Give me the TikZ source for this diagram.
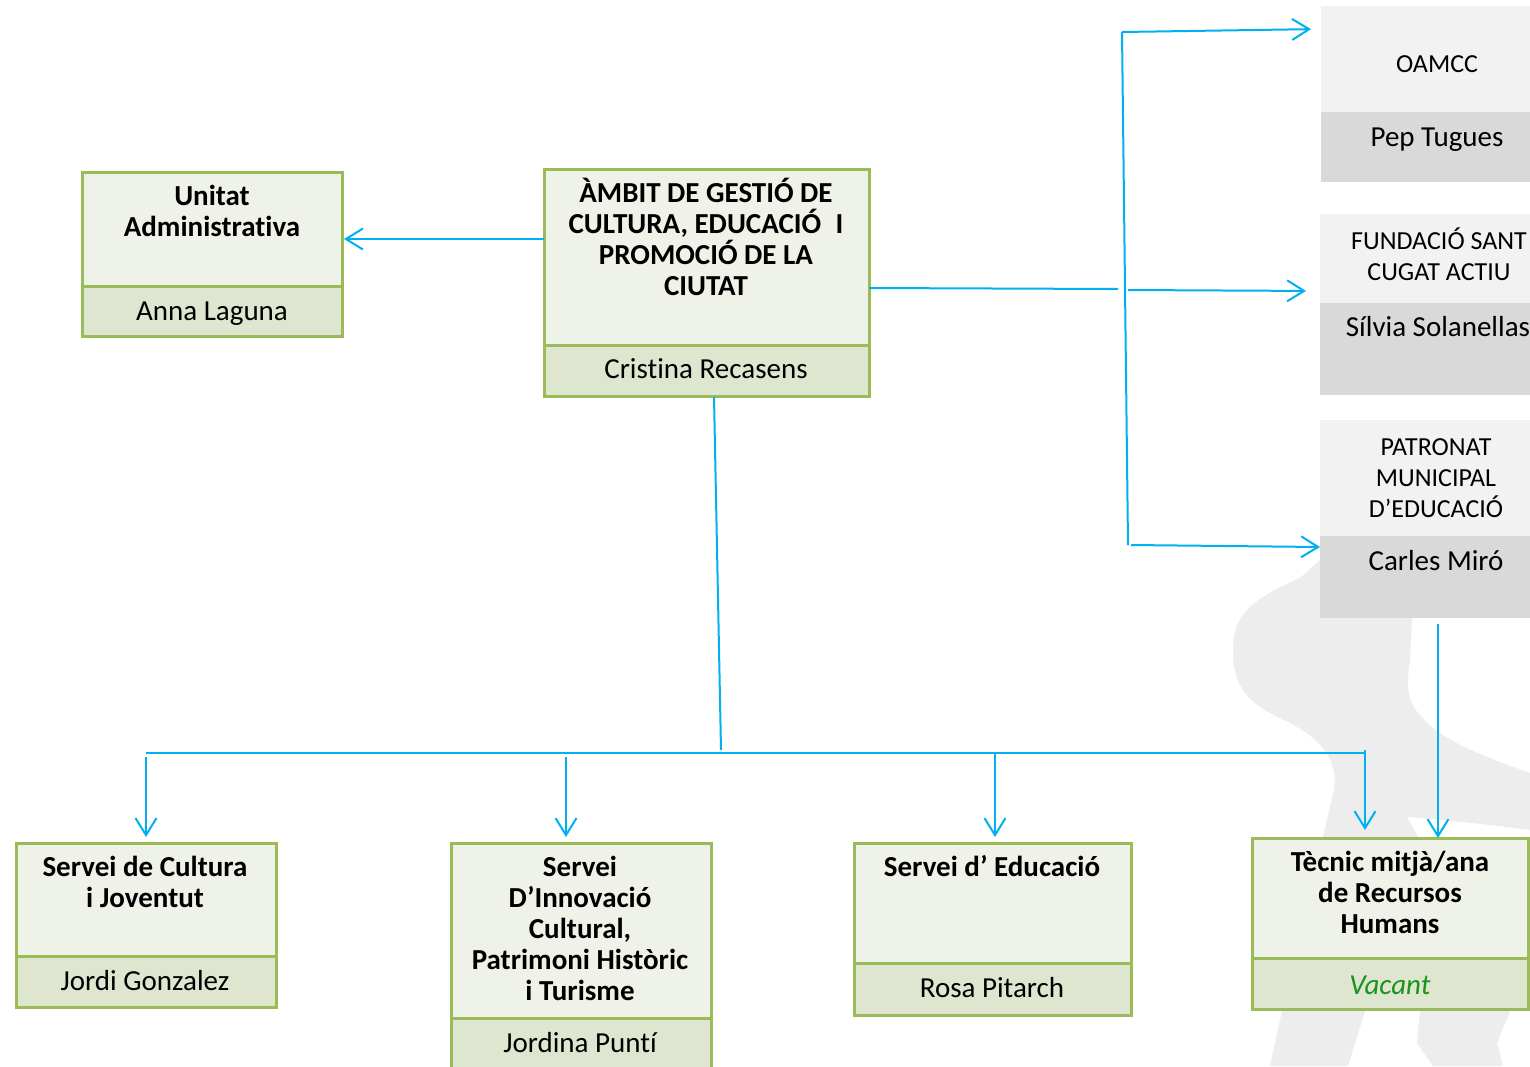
\documentclass[tikz,border=0pt]{standalone}
\usepackage{fontspec}
\setmainfont{Carlito}[Ligatures=NoCommon]
\usetikzlibrary{arrows.meta}
\definecolor{gbd}{HTML}{9BBB59}
\definecolor{gtop}{HTML}{EFF2E8}
\definecolor{gbot}{HTML}{DEE6D0}
\definecolor{ltop}{HTML}{F2F2F2}
\definecolor{lbot}{HTML}{D9D9D9}
\definecolor{conn}{HTML}{00B0F0}
\definecolor{wmark}{HTML}{EDEDED}
\definecolor{vac}{HTML}{1A941A}
\tikzset{
  gpart/.style={draw=gbd, line width=3pt, inner sep=0pt, outer sep=0pt, anchor=north west},
  lpart/.style={draw=none, inner sep=0pt, outer sep=0pt, anchor=north west},
  ttl/.style={font=\fontsize{29}{31}\selectfont\bfseries, align=center, inner sep=0pt, anchor=north},
  lab/.style={font=\fontsize{26}{31}\selectfont, align=center, inner sep=0pt, anchor=north},
  nm/.style={font=\fontsize{29}{31}\selectfont, inner sep=0pt, anchor=base},
  cl/.style={draw=conn, line width=2pt},
  arr/.style={draw=conn, line width=2pt, -{Straight Barb[length=17pt,width=21pt]}}
}
\newcommand{\fr}{\rule{0pt}{28pt}}
\begin{document}
\begin{tikzpicture}[x=1pt,y=-1pt]
\useasboundingbox (0,0) rectangle (1530,1066);
\fill[white] (0,0) rectangle (1530,1066);
% watermark
\fill[wmark] (1320,560) -- (1300,578) .. controls (1250,600) and (1233,615) .. (1233,650)
  .. controls (1233,690) and (1250,705) .. (1290,723) .. controls (1322,740) and (1338,760) .. (1334,790)
  -- (1282,1011) -- (1270,1066) -- (1348,1066) -- (1365,1011) -- (1390,900) -- (1420,1011)
  -- (1417,1043) -- (1433,1066) -- (1503,1066) -- (1497,1043) -- (1510,1011) -- (1420,840)
  -- (1407,817) .. controls (1450,820) and (1500,826) .. (1530,830) -- (1530,773)
  .. controls (1480,755) and (1440,740) .. (1420,715) .. controls (1405,700) and (1407,680) .. (1410,660)
  -- (1413,600) -- cycle;

% green boxes
\node[gpart, fill=gtop, minimum width=260, minimum height=114] (uaT) at (82,172) {};
\node[gpart, fill=gbot, minimum width=260, minimum height=50] (uaB) at (82,286) {};
\node[gpart, fill=gtop, minimum width=325, minimum height=176] (cbT) at (544,169) {};
\node[gpart, fill=gbot, minimum width=325, minimum height=51] (cbB) at (544,345) {};
\node[gpart, fill=gtop, minimum width=260, minimum height=113] (cuT) at (16,843) {};
\node[gpart, fill=gbot, minimum width=260, minimum height=51] (cuB) at (16,956) {};
\node[gpart, fill=gtop, minimum width=260, minimum height=175] (inT) at (451,843) {};
\node[gpart, fill=gbot, minimum width=260, minimum height=72] (inB) at (451,1018) {};
\node[gpart, fill=gtop, minimum width=277, minimum height=120] (edT) at (854,843) {};
\node[gpart, fill=gbot, minimum width=277, minimum height=52] (edB) at (854,963) {};
\node[gpart, fill=gtop, minimum width=276, minimum height=120] (teT) at (1252,838) {};
\node[gpart, fill=gbot, minimum width=276, minimum height=51] (teB) at (1252,958) {};
% grey boxes
\node[lpart, fill=ltop, minimum width=209, minimum height=106] (omT) at (1321,6) {};
\node[lpart, fill=lbot, minimum width=209, minimum height=70] (omB) at (1321,112) {};
\node[lpart, fill=ltop, minimum width=210, minimum height=89] (fuT) at (1320,214) {};
\node[lpart, fill=lbot, minimum width=210, minimum height=92] (fuB) at (1320,303) {};
\node[lpart, fill=ltop, minimum width=210, minimum height=116] (paT) at (1320,420) {};
\node[lpart, fill=lbot, minimum width=210, minimum height=82] (paB) at (1320,536) {};

% texts
\node[ttl] (uaL) at (212,177) {\fr Unitat\\Administrativa};
\node[nm] (uaN) at (212,320) {Anna Laguna};
\node[ttl] (cbL) at (706,174) {\fr ÀMBIT DE GESTIÓ DE\\CULTURA, EDUCACIÓ\hspace{0.5em}I\\PROMOCIÓ DE LA\\CIUTAT};
\node[nm] (cbN) at (706,378) {Cristina Recasens};
\node[lab, anchor=base] (omL) at (1437,72) {OAMCC};
\node[nm] (omN) at (1437,146) {Pep Tugues};
\node[lab] (fuL) at (1439,221) {\fr FUNDACIÓ SANT\\CUGAT ACTIU};
\node[nm] (fuN) at (1438,336) {Sílvia Solanellas};
\node[lab] (paL) at (1436,427) {\fr PATRONAT\\MUNICIPAL\\D’EDUCACIÓ};
\node[nm] (paN) at (1436,570) {Carles Miró};
\node[ttl] (cuL) at (145,848) {\fr Servei de Cultura\\i Joventut};
\node[nm] (cuN) at (145,990) {Jordi Gonzalez};
\node[ttl] (inL) at (580,848) {\fr Servei\\D’Innovació\\Cultural,\\Patrimoni Històric\\i Turisme};
\node[nm] (inN) at (580,1052) {Jordina Puntí};
\node[ttl] (edL) at (992,848) {\fr Servei d’ Educació};
\node[nm] (edN) at (992,997) {Rosa Pitarch};
\node[ttl] (teL) at (1390,843) {\fr Tècnic mitjà/ana\\de Recursos\\Humans};
\node[nm, text=vac, font=\fontsize{29}{31}\selectfont\itshape] (teN) at (1390,994) {Vacant};

% connectors
\draw[arr] (cbT.west |- 0,239) -- ([xshift=2pt]uaT.east |- 0,239);
\coordinate (vt) at (1122,32);
\coordinate (vb) at (1128,545);
\coordinate (gapL) at (1118,289);
\coordinate (gapR) at (1128,290);
\coordinate (botS) at (1131,545);
\draw[cl] (vt) -- (vb);
\draw[arr, shorten >=10pt] (vt) -- (omT.west |- 0,29);
\draw[cl] (cbT.east |- 0,288) -- (gapL);
\draw[arr, shorten >=14pt] (gapR) -- (fuT.west |- 0,291);
\draw[arr] (botS) -- (paB.west |- 0,547);

\coordinate (dtop) at (714,397);
\coordinate (dbot) at (721,750);
\coordinate (busL) at (146,753);
\coordinate (busR) at (1365,753);
\draw[cl] (dtop) -- (dbot);
\draw[cl] (busL) -- (busR);
\coordinate (a1) at (146,757);
\coordinate (a2) at (566,757);
\coordinate (a3) at (995,753);
\coordinate (a4) at (1365,750);
\draw[arr, shorten >=6pt] (a1) -- (cuT.north);
\draw[arr, shorten >=6pt] (a2) -- (inT.north -| a2);
\draw[arr, shorten >=6pt] (a3) -- (edT.north -| a3);
\draw[arr, shorten >=8pt] (a4) -- (teT.north -| a4);
\coordinate (a5) at (1438,624);
\draw[arr] (a5) -- (teT.north -| a5);
\end{tikzpicture}
\end{document}
